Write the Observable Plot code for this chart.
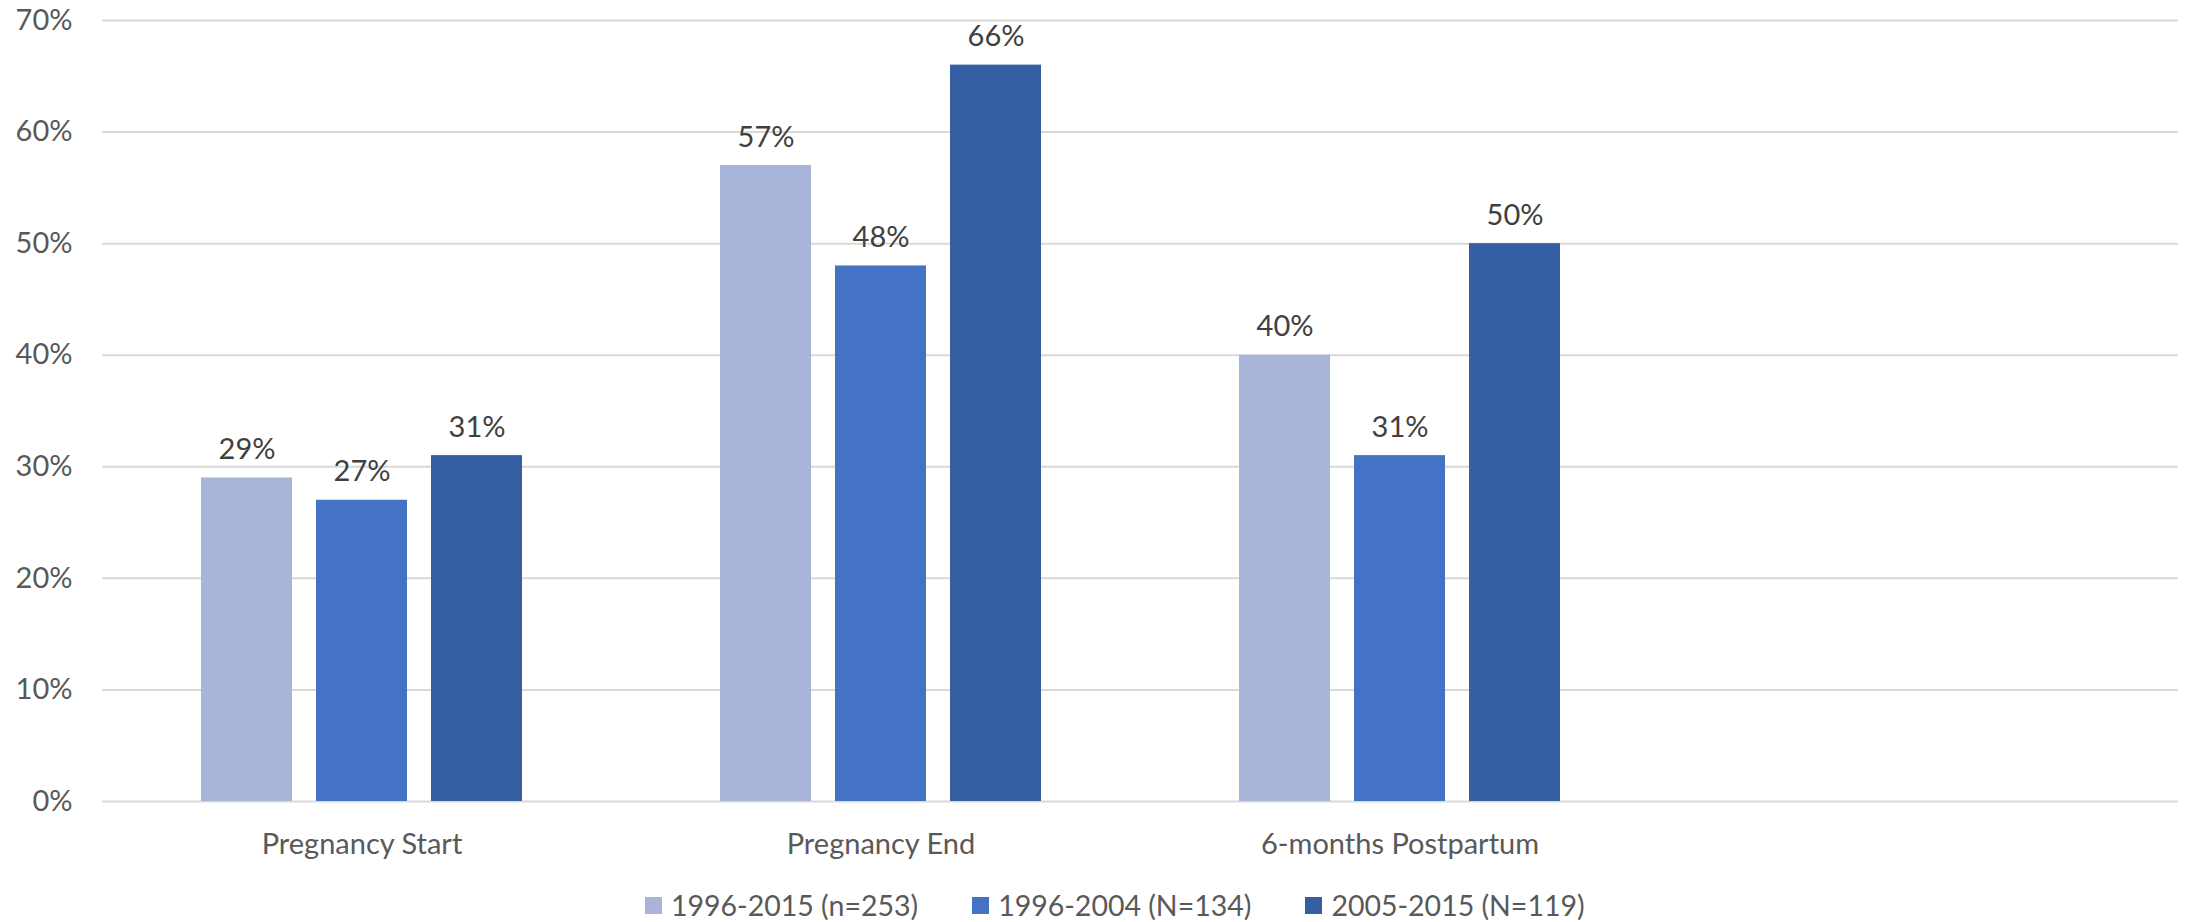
<!DOCTYPE html>
<html>
<head>
<meta charset="utf-8">
<script src="https://cdn.jsdelivr.net/npm/d3@7"></script>
<script src="https://cdn.jsdelivr.net/npm/@observablehq/plot@0.6"></script>
<style>
  html, body { margin: 0; padding: 0; background: #fff; }
  body { width: 2193px; height: 922px; overflow: hidden; font-family: Lato, "Liberation Sans", sans-serif; }
  #legend { display: flex; align-items: center; height: 40px; margin-left: 645px; gap: 54px; font-size: 28.5px; color: #595959; }
  .item { display: flex; align-items: center; gap: 9px; }
  .swatch { width: 17px; height: 17px; display: inline-block; }
</style>
</head>
<body>
<div id="chart"></div>
<div id="legend"></div>
<script>
// Time points (the trailing blank slot keeps room on the right of the axis)
const categories = ["Pregnancy Start", "Pregnancy End", "6-months Postpartum", ""];
const series = ["1996-2015 (n=253)", "1996-2004 (N=134)", "2005-2015 (N=119)"];
const colors = ["#a8b5d9", "#4472c4", "#365ea2"];

// Percentage of women per time point, one array per cohort
const allYears = [29, 57, 40];
const early = [27, 48, 31];
const late = [31, 66, 50];

const yTicks = [0, 10, 20, 30, 40, 50, 60, 70];

const values = [allYears, early, late];
const rows = [];
series.forEach((s, i) => {
  values[i].forEach((v, j) => rows.push({category: categories[j], series: s, value: v}));
});
const gridRows = d3.cross(categories, yTicks).map(([category, tick]) => ({category, tick}));

const chart = Plot.plot({
  width: 2193,
  height: 885,
  marginLeft: 102,
  marginRight: 15,
  marginTop: 20,
  marginBottom: 84,
  style: {fontFamily: "Lato, 'Liberation Sans', sans-serif", fontSize: "29px", color: "#595959", background: "#fff", overflow: "visible"},
  fx: {domain: categories, padding: 0, label: null, tickSize: 0, tickPadding: 31.5, axis: "bottom"},
  x: {domain: series, paddingInner: 0.209, paddingOuter: 0.86, axis: null},
  y: {domain: [0, 70], ticks: yTicks, tickFormat: d => d + "%", tickSize: 0, tickPadding: 30, label: null},
  color: {domain: series, range: colors},
  marks: [
    Plot.ruleY(gridRows, {fx: "category", y: "tick", stroke: "#d9d9d9", strokeWidth: 2}),
    Plot.barY(rows, {fx: "category", x: "series", y: "value", fill: "series"}),
    Plot.text(rows, {fx: "category", x: "series", y: "value", text: d => d.value + "%", lineAnchor: "bottom", dy: -19, fill: "#404040", fontSize: 29})
  ]
});
document.getElementById("chart").appendChild(chart);

// Legend below the chart
const legend = d3.select("#legend");
series.forEach((s, i) => {
  const item = legend.append("div").attr("class", "item");
  item.append("span").attr("class", "swatch").style("background", colors[i]);
  item.append("span").text(s);
});
</script>
</body>
</html>
